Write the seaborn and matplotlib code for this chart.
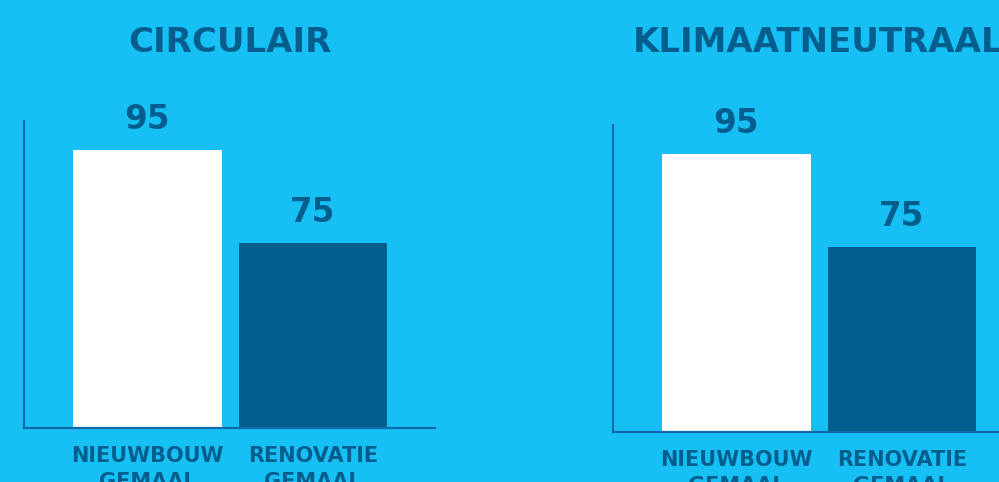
import pandas as pd
import seaborn as sns
import matplotlib.pyplot as plt

# data
categories = ['NIEUWBOUW\nGEMAAL', 'RENOVATIE\nGEMAAL']
circulair = [95, 75]
klimaatneutraal = [95, 75]
titles = ['CIRCULAIR', 'KLIMAATNEUTRAAL']

bg = '#17C0F4'
dark = '#035E8E'
bar_colors = ['#FFFFFF', '#005D8D']
axis_color = '#0E6CAC'

sns.set_theme(style='white')
plt.rcParams['font.family'] = ['DejaVu Sans']
plt.rcParams['font.weight'] = 'bold'

fig = plt.figure(figsize=(9.99, 4.82), dpi=100, facecolor=bg)

W, H = 999, 482
panels = [
  (24, 428, circulair),
  (613, 432, klimaatneutraal),
]

for (x0, ybase, vals), title in zip(panels, titles):
  ax = fig.add_axes([x0 / W, (H - ybase) / H, 411 / W, 307 / H])
  ax.set_facecolor(bg)
  df = pd.DataFrame({'cat': categories, 'val': vals})
  sns.barplot(
    data=df,
    x='cat',
    y='val',
    hue='cat',
    palette=bar_colors,
    width=0.9,
    legend=False,
    ax=ax,
    saturation=1,
    linewidth=0
  )
  ax.set_xlim(-0.746, 1.737)
  ax.set_ylim(35, 101.3)
  for c in ax.containers:
    ax.bar_label(c, padding=10, fontsize=23.5, fontweight='bold', color=dark)
  sns.despine(ax=ax)
  for s in ['left', 'bottom']:
    ax.spines[s].set_color(axis_color)
    ax.spines[s].set_linewidth(1.6)
  ax.set_yticks([])
  ax.set_xlabel('')
  ax.set_ylabel('')
  ax.tick_params(axis='x', length=0, pad=13)
  for lbl in ax.get_xticklabels():
    lbl.set_fontsize(15)
    lbl.set_fontweight('bold')
    lbl.set_color(dark)
    lbl.set_linespacing(1.4)
    lbl.set_verticalalignment('top')
  fig.text((x0 + 205.5) / W, 1 - 42 / H, title, ha='center', va='center',
           fontsize=24.5, fontweight='bold', color=dark)

plt.savefig('out.png', dpi=100, facecolor=bg)
plt.close()
